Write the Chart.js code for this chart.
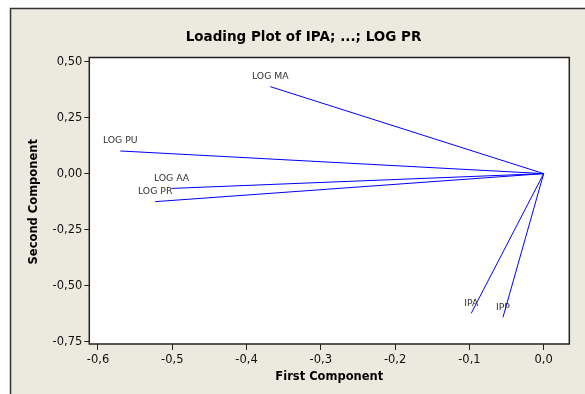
<!doctype html>
<html lang="en">

<head>
  <title>Loading Plot</title>
  <meta charset="utf-8">
  <style>
    body { margin: 0; background: #fff; }
    canvas { display: block; }
  </style>
</head>

<body>
  <canvas id="grafico" width="585" height="394"></canvas>

  <script src="https://cdn.jsdelivr.net/npm/chart.js"></script>

  <script>
    // datos del gráfico (cargas de los componentes)
    const variables = ['LOG MA', 'LOG PU', 'LOG AA', 'LOG PR', 'IPA', 'IPP'];
    const firstComp = [-0.368, -0.570, -0.501, -0.523, -0.0975, -0.0548];
    const secondComp = [0.388, 0.101, -0.066, -0.125, -0.623, -0.641];

    const xTicks = [-0.6, -0.5, -0.4, -0.3, -0.2, -0.1, 0.0];
    const xTickLabels = ['-0,6', '-0,5', '-0,4', '-0,3', '-0,2', '-0,1', '0,0'];
    const yTicks = [-0.75, -0.5, -0.25, 0, 0.25, 0.5];
    const yTickLabels = ['-0,75', '-0,50', '-0,25', '0,00', '0,25', '0,50'];

    const titulo = 'Loading Plot of IPA; ...; LOG PR';
    const tituloX = 'First Component';
    const tituloY = 'Second Component';

    const fondo = '#ece9df';
    const azul = '#0000ff';

    const lienzo = document.getElementById('grafico');

    // una línea del origen a cada carga
    const datasets = variables.map((v, i) => ({
      label: v,
      data: [{ x: 0, y: 0 }, { x: firstComp[i], y: secondComp[i] }],
      showLine: true,
      borderColor: azul,
      borderWidth: 1,
      pointRadius: 0,
      clip: false
    }));

    const marco = {
      id: 'marco',
      beforeDraw(chart) {
        const ctx = chart.ctx;
        const a = chart.chartArea;
        ctx.save();
        ctx.fillStyle = '#fff';
        ctx.fillRect(0, 0, chart.width, chart.height);
        ctx.fillStyle = fondo;
        ctx.fillRect(10, 8, chart.width - 10, chart.height - 8);
        ctx.strokeStyle = '#333';
        ctx.lineWidth = 1.5;
        ctx.beginPath();
        ctx.moveTo(10.5, chart.height);
        ctx.lineTo(10.5, 8.5);
        ctx.lineTo(chart.width, 8.5);
        ctx.stroke();
        ctx.fillStyle = '#fff';
        ctx.fillRect(a.left, a.top, a.right - a.left, a.bottom - a.top);
        ctx.restore();
      },
      afterDatasetsDraw(chart) {
        const ctx = chart.ctx;
        const a = chart.chartArea;
        const sx = chart.scales.x;
        const sy = chart.scales.y;
        ctx.save();
        // etiquetas de las variables
        ctx.fillStyle = '#333';
        ctx.font = '9.3px "DejaVu Sans"';
        ctx.textAlign = 'center';
        ctx.textBaseline = 'middle';
        variables.forEach((v, i) => {
          const px = sx.getPixelForValue(firstComp[i]);
          const py = sy.getPixelForValue(secondComp[i]);
          ctx.fillText(v, px, py - 10);
        });
        // borde del área
        ctx.strokeStyle = '#222';
        ctx.lineWidth = 1.5;
        ctx.strokeRect(a.left, a.top, a.right - a.left, a.bottom - a.top);
        // títulos
        ctx.fillStyle = '#000';
        ctx.font = 'bold 13.5px "DejaVu Sans"';
        ctx.fillText(titulo, 303.5, 37);
        ctx.font = 'bold 11.5px "DejaVu Sans"';
        ctx.fillText(tituloX, (a.left + a.right) / 2, 377.5);
        ctx.translate(34, (a.top + a.bottom) / 2 + 1);
        ctx.rotate(-Math.PI / 2);
        ctx.fillText(tituloY, 0, 0);
        ctx.restore();
      }
    };

    new Chart(lienzo, {
      type: 'scatter',
      data: { datasets: datasets },
      options: {
        responsive: false,
        animation: false,
        layout: { padding: { top: 57.5, right: 15.7, bottom: 0, left: 0 } },
        plugins: {
          legend: { display: false },
          title: { display: false },
          tooltip: { enabled: false }
        },
        scales: {
          x: {
            type: 'linear',
            min: -0.6117,
            max: 0.0345,
            afterFit: s => { s.height = 50; },
            afterBuildTicks: s => { s.ticks = xTicks.map(v => ({ value: v })); },
            grid: { drawOnChartArea: false, drawTicks: true, tickLength: 6, color: '#222' },
            border: { display: false },
            ticks: {
              autoSkip: false,
              maxRotation: 0,
              padding: 3,
              color: '#111',
              font: { family: 'DejaVu Sans', size: 11.5 },
              callback: (val, i) => xTickLabels[i]
            }
          },
          y: {
            type: 'linear',
            min: -0.760,
            max: 0.518,
            afterFit: s => { s.width = 89.3; },
            afterBuildTicks: s => { s.ticks = yTicks.map(v => ({ value: v })); },
            grid: { drawOnChartArea: false, drawTicks: true, tickLength: 5, color: '#222' },
            border: { display: false },
            ticks: {
              autoSkip: false,
              padding: 2,
              color: '#111',
              font: { family: 'DejaVu Sans', size: 11.5 },
              callback: (val, i) => yTickLabels[i]
            }
          }
        }
      },
      plugins: [marco]
    });
  </script>
</body>

</html>
